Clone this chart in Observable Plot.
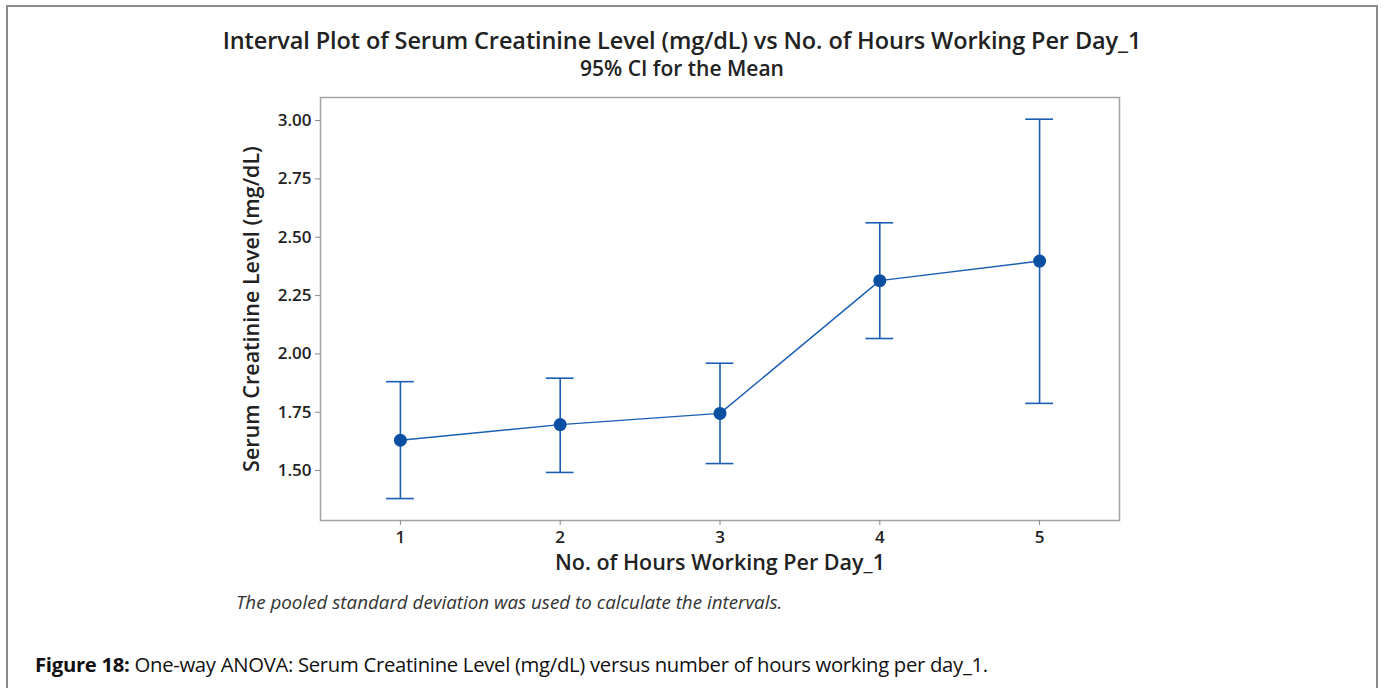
<!DOCTYPE html>
<html>
<head>
<meta charset="utf-8">
<script src="https://cdn.jsdelivr.net/npm/d3@7"></script>
<script src="https://cdn.jsdelivr.net/npm/@observablehq/plot@0.6"></script>
<style>
  html, body { margin: 0; padding: 0; background: #fff; }
  #page { position: relative; width: 1385px; height: 688px; overflow: hidden; font-family: "Open Sans", "Noto Sans", sans-serif; }
  #border { position: absolute; left: 6px; top: 5px; width: 1372px; height: 700px; border: 2px solid #8c8c8c; border-bottom: none; box-sizing: border-box; }
  #chart { position: absolute; left: 0; top: 0; }
  .title { position: absolute; left: 0; width: 1364px; text-align: center; color: #222; font-weight: 600; white-space: nowrap; }
  #t1 { top: 27px; font-size: 23.5px; letter-spacing: -0.1px; line-height: 26px; }
  #t2 { top: 57px; font-size: 21px; line-height: 22px; }
  #note { position: absolute; left: 236px; top: 589px; font-size: 18.8px; line-height: 26px; font-style: italic; color: #333; white-space: nowrap; }
  #caption { position: absolute; left: 35px; top: 650px; font-size: 20.3px; line-height: 28px; color: #111; letter-spacing: -0.3px; white-space: nowrap; }
  #caption b { font-weight: 700; }
</style>
</head>
<body>
<div id="page">
  <div id="border"></div>
  <div id="chart"></div>
  <div class="title" id="t1">Interval Plot of Serum Creatinine Level (mg/dL) vs No. of Hours Working Per Day_1</div>
  <div class="title" id="t2">95% CI for the Mean</div>
  <div id="note">The pooled standard deviation was used to calculate the intervals.</div>
  <div id="caption"><b>Figure 18:</b> One-way ANOVA: Serum Creatinine Level (mg/dL) versus number of hours working per day_1.</div>
</div>
<script>
const hours = [1, 2, 3, 4, 5];
const means = [1.630, 1.697, 1.745, 2.314, 2.398];
const lower = [1.380, 1.492, 1.530, 2.066, 1.788];
const upper = [1.881, 1.896, 1.960, 2.562, 3.006];
const yTicks = [1.50, 1.75, 2.00, 2.25, 2.50, 2.75, 3.00];

const data = hours.map((h, i) => ({ x: h, mean: means[i], lo: lower[i], hi: upper[i] }));
const capHalf = 0.087;
const blue = "#1a5fb4";
const dotBlue = "#0b4fa3";

const chart = Plot.plot({
  width: 1385,
  height: 590,
  marginTop: 97,
  marginBottom: 70,
  marginLeft: 320,
  marginRight: 266,
  style: { fontFamily: "'Open Sans', 'Noto Sans', sans-serif", color: "#222", background: "transparent" },
  x: { domain: [0.5, 5.5], ticks: hours, tickFormat: d3.format("d"), label: null },
  y: { domain: [1.286, 3.099], ticks: yTicks, tickFormat: d3.format(".2f"), label: null },
  marks: [
    Plot.frame({ stroke: "#a3a3a3", strokeWidth: 1.5 }),
    Plot.axisY({ ticks: yTicks, tickFormat: d3.format(".2f"), tickSize: 5, tickPadding: 4, fontSize: 17, fontWeight: 600, stroke: "#888", fill: "#222", label: null }),
    Plot.axisX({ ticks: hours, tickFormat: d3.format("d"), tickSize: 5, tickPadding: 5, fontSize: 17, fontWeight: 600, stroke: "#888", fill: "#222", label: null }),
    Plot.ruleX(data, { x: "x", y1: "lo", y2: "hi", stroke: blue, strokeWidth: 1.6 }),
    Plot.ruleY(data, { y: "hi", x1: d => d.x - capHalf, x2: d => d.x + capHalf, stroke: blue, strokeWidth: 1.6 }),
    Plot.ruleY(data, { y: "lo", x1: d => d.x - capHalf, x2: d => d.x + capHalf, stroke: blue, strokeWidth: 1.6 }),
    Plot.line(data, { x: "x", y: "mean", stroke: blue, strokeWidth: 1.4 }),
    Plot.dot(data, { x: "x", y: "mean", r: 6.5, fill: dotBlue, stroke: "none" }),
    Plot.text(["No. of Hours Working Per Day_1"], { frameAnchor: "bottom", textAnchor: "middle", lineAnchor: "middle", dy: 43, fontSize: 21.5, fontWeight: 600, fill: "#222" }),
    Plot.text(["Serum Creatinine Level (mg/dL)"], { frameAnchor: "left", textAnchor: "middle", lineAnchor: "middle", dx: -68, rotate: -90, fontSize: 21.5, fontWeight: 600, fill: "#222" })
  ]
});
document.getElementById("chart").appendChild(chart);
</script>
</body>
</html>
